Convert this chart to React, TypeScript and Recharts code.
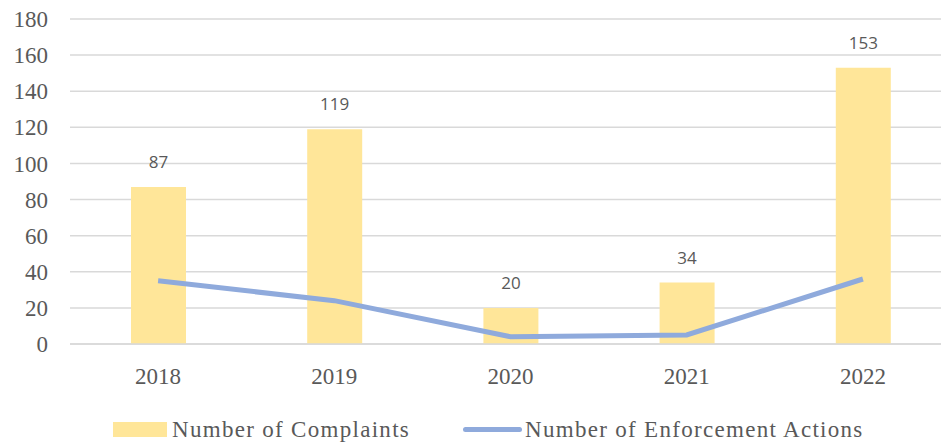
import {
  ComposedChart,
  Bar,
  Line,
  XAxis,
  YAxis,
  CartesianGrid,
  LabelList,
  Legend
} from "recharts";

const years = ["2018", "2019", "2020", "2021", "2022"];
const complaints = [87, 119, 20, 34, 153];
const enforcementActions = [35, 24, 4, 5, 36];
const yTicks = [0, 20, 40, 60, 80, 100, 120, 140, 160, 180];

const data = years.map((year, i) => ({
  year,
  complaints: complaints[i],
  actions: enforcementActions[i]
}));

const axisFont = "'Liberation Serif', serif";

function ChartLegend() {
  const textStyle = { fontFamily: axisFont, fontSize: 23, letterSpacing: 1.3, color: "#595959", whiteSpace: "nowrap" as const };
  return (
    <div style={{ display: "flex", alignItems: "center", paddingLeft: 113, height: 35, paddingTop: 4, boxSizing: "border-box" }}>
      <span style={{ display: "inline-block", width: 54, height: 15, background: "#FFE699", marginRight: 5 }} />
      <span style={textStyle}>Number of Complaints</span>
      <span
        style={{
          display: "inline-block",
          width: 59,
          height: 5,
          borderRadius: 3,
          background: "#8FAADC",
          marginLeft: 53,
          marginRight: 3
        }}
      />
      <span style={textStyle}>Number of Enforcement Actions</span>
    </div>
  );
}

export default function App() {
  return (
    <div style={{ position: "absolute", left: 0, top: 0, width: 941, height: 445, overflow: "hidden", background: "#fff" }}>
      <ComposedChart
        width={951}
        height={445}
        data={data}
        margin={{ top: 19, right: 0, left: 0, bottom: 0 }}
      >
        <CartesianGrid vertical={false} stroke="#d9d9d9" strokeWidth={1.5} />
        <XAxis
          dataKey="year"
          axisLine={{ stroke: "#d9d9d9", strokeWidth: 1.5 }}
          tickLine={false}
          tickSize={0}
          tickMargin={24}
          height={66}
          tick={{ fontFamily: axisFont, fontSize: 23, fill: "#595959" }}
        />
        <YAxis
          domain={[0, 180]}
          ticks={yTicks}
          interval={0}
          axisLine={false}
          tickLine={false}
          tickSize={0}
          tickMargin={22}
          width={70}
          tick={{ fontFamily: axisFont, fontSize: 23, fill: "#595959" }}
        />
        <Legend verticalAlign="bottom" align="left" content={() => <ChartLegend />} />
        <Bar dataKey="complaints" fill="#FFE699" barSize={55} isAnimationActive={false}>
          <LabelList
            dataKey="complaints"
            position="top"
            offset={19}
            style={{ fontFamily: "'Open Sans', sans-serif", fontSize: 17, fill: "#595959" }}
          />
        </Bar>
        <Line
          type="linear"
          dataKey="actions"
          stroke="#8FAADC"
          strokeWidth={5}
          dot={false}
          activeDot={false}
          isAnimationActive={false}
        />
      </ComposedChart>
    </div>
  );
}
